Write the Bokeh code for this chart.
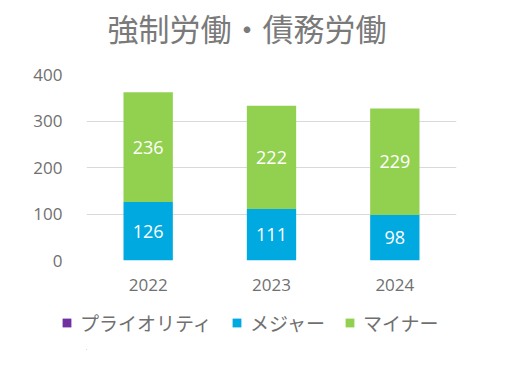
from bokeh.plotting import figure
from bokeh.layouts import column
from bokeh.models import ColumnDataSource, Legend, LegendItem, LabelSet, Label, Range1d, FactorRange
from bokeh.embed import file_html
from bokeh.resources import INLINE
from bokeh.core.properties import value

years = ["2022", "2023", "2024"]
priority = [0, 0, 0]
major = [126, 111, 98]
minor = [236, 222, 229]
series_names = ["プライオリティ", "メジャー", "マイナー"]
colors = ["#7030A0", "#00A9E0", "#92D050"]
yticks = [0, 100, 200, 300, 400]
title_text = "強制労働・債務労働"

src = ColumnDataSource(dict(
    years=years,
    priority=priority,
    major=major,
    minor=minor,
    major_mid=[m / 2 for m in major],
    minor_mid=[m + n / 2 for m, n in zip(major, minor)],
    major_lbl=[str(v) for v in major],
    minor_lbl=[str(v) for v in minor],
))

def strip(h):
    f = figure(frame_width=513, frame_height=h, x_range=Range1d(0, 513), y_range=Range1d(0, h),
               output_backend="svg", toolbar_location=None,
               min_border_left=0, min_border_right=0, min_border_top=0, min_border_bottom=0)
    f.axis.visible = False
    f.grid.visible = False
    f.outline_line_color = None
    return f

# title strip (frames of the column are aligned with the chart's frame)
tt = strip(60)
tt.add_layout(Label(x=21, y=33, text=title_text, text_font="Noto Sans CJK JP",
                    text_font_size="31px", text_color="#7a7a7a", text_baseline="middle",
                    text_align="left"))

p = figure(frame_width=370, frame_height=186, x_range=FactorRange(*years), y_range=Range1d(0, 400),
           output_backend="svg", toolbar_location=None,
           min_border_left=86, min_border_right=57, min_border_top=14, min_border_bottom=40)

rs = p.vbar_stack(["priority", "major", "minor"], x="years", width=0.4, color=colors,
                  source=src, line_color=None)

for col, ycol in (("major_lbl", "major_mid"), ("minor_lbl", "minor_mid")):
    p.add_layout(LabelSet(x="years", y=ycol, text=col, source=src, text_align="center",
                          text_baseline="middle", text_color="white",
                          text_font=value("Open Sans"), text_font_size="18px"))

p.yaxis.ticker = yticks
p.xaxis.axis_line_color = None
p.yaxis.axis_line_color = None
p.xaxis.major_tick_line_color = None
p.yaxis.major_tick_line_color = None
p.xaxis.minor_tick_line_color = None
p.yaxis.minor_tick_line_color = None
for ax in (p.xaxis, p.yaxis):
    ax.major_label_text_font = "Open Sans"
    ax.major_label_text_font_size = "17px"
    ax.major_label_text_color = "#707070"
p.yaxis.major_label_standoff = 18
p.xaxis.major_label_standoff = 12
p.xgrid.grid_line_color = None
p.ygrid.grid_line_color = "#d9d9d9"
p.outline_line_color = None

# legend strip
lg = strip(50)
dummy = ColumnDataSource(dict(x=[-1000], top=[1]))
dummies = [lg.vbar(x="x", top="top", width=1, color=c, line_color=None, source=dummy)
           for c in colors]
legend = Legend(items=[LegendItem(label=n, renderers=[r]) for n, r in zip(series_names, dummies)],
                orientation="horizontal", location=(61, 14),
                label_text_font="Noto Sans CJK JP", label_text_font_size="19px",
                label_text_color="#707070", glyph_width=11, glyph_height=11,
                spacing=19, label_standoff=8, border_line_color=None, padding=0, margin=0,
                background_fill_alpha=0)
lg.add_layout(legend, "center")

layout = column(tt, p, lg, spacing=0)
open("out.html", "w").write(file_html(layout, INLINE))
